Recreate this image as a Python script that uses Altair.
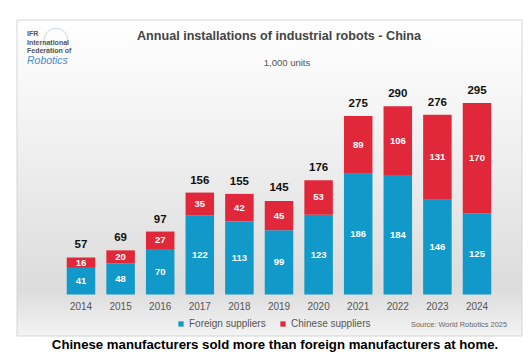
import altair as alt
import pandas as pd

years = ["2014", "2015", "2016", "2017", "2018", "2019", "2020", "2021", "2022", "2023", "2024"]
foreign = [41, 48, 70, 122, 113, 99, 123, 186, 184, 146, 125]
chinese = [16, 20, 27, 35, 42, 45, 53, 89, 106, 131, 170]
totals = [57, 69, 97, 156, 155, 145, 176, 275, 290, 276, 295]
series_names = ["Foreign suppliers", "Chinese suppliers"]
series_colors = ["#1199c9", "#e1283a"]

title_text = "Annual installations of industrial robots - China"
subtitle_text = "1,000 units"
source_text = "Source: World Robotics 2025"
caption_text = "Chinese manufacturers sold more than foreign manufacturers at home."
logo_lines = ["IFR", "International", "Federation of"]
logo_script = "Robotics"

FONT = "Liberation Sans"

rows = []
for i, y in enumerate(years):
    rows.append({"year": y, "supplier": series_names[0], "value": foreign[i], "ord": 0})
    rows.append({"year": y, "supplier": series_names[1], "value": chinese[i], "ord": 1})
df = pd.DataFrame(rows)
tot_df = pd.DataFrame({"year": years, "total": totals})
one = pd.DataFrame({"a": [0]})

xscale = alt.Scale(domain=years, range=[61.2, 496.8], paddingInner=0.28, paddingOuter=0.14)
yscale = alt.Scale(domain=[0, 295], range=[294.5, 103], nice=False, zero=True)

X = alt.X("year:N", scale=xscale, axis=None)

bg = alt.Chart(one).mark_rect(
    color=alt.Gradient(
        gradient="linear",
        stops=[
            alt.GradientStop(offset=0, color="#ffffff"),
            alt.GradientStop(offset=0.3, color="#f4f4f4"),
            alt.GradientStop(offset=0.85, color="#dcdcdc"),
            alt.GradientStop(offset=1, color="#f3f3f3"),
        ],
        x1=0, x2=0, y1=0, y2=1,
    ),
    stroke="#d4d4d4",
    strokeWidth=1,
).encode(x=alt.value(17), x2=alt.value(522), y=alt.value(20), y2=alt.value(336))

bars = alt.Chart(df).mark_bar().encode(
    x=X,
    y=alt.Y("value:Q", stack="zero", scale=yscale, axis=None),
    color=alt.Color(
        "supplier:N",
        scale=alt.Scale(domain=series_names, range=series_colors),
        legend=alt.Legend(
            title=None,
            orient="none",
            legendX=176,
            legendY=319,
            direction="horizontal",
            symbolType="square",
            symbolSize=28,
            symbolStrokeWidth=0,
            labelFont=FONT,
            labelFontSize=10,
            labelColor="#555555",
            labelOffset=3,
            columnPadding=12,
        ),
    ),
    order=alt.Order("ord:Q"),
)

seg_labels = alt.Chart(df).transform_stack(
    stack="value", groupby=["year"], as_=["v0", "v1"], sort=[alt.SortField("ord")]
).transform_calculate(mid="(datum.v0 + datum.v1) / 2").mark_text(
    color="white", fontWeight="bold", fontSize=9.5, font=FONT, baseline="middle"
).encode(x=X, y=alt.Y("mid:Q", scale=yscale, axis=None), text=alt.Text("value:Q"))

tot_labels = alt.Chart(tot_df).mark_text(
    color="#111111", fontWeight="bold", fontSize=11.5, font=FONT, baseline="middle", dy=-12
).encode(x=X, y=alt.Y("total:Q", scale=yscale, axis=None), text=alt.Text("total:Q"))

year_labels = alt.Chart(tot_df).mark_text(
    color="#555555", fontSize=10, font=FONT, baseline="middle"
).encode(x=X, y=alt.value(307), text="year:N")

def txt(s, x, y, **kw):
    return alt.Chart(pd.DataFrame({"t": [s]})).mark_text(font=FONT, baseline="middle", **kw).encode(
        x=alt.value(x), y=alt.value(y), text="t:N"
    )

title = txt(title_text, 279, 36, fontSize=12.6, fontWeight="bold", color="#444444", align="center")
subtitle = txt(subtitle_text, 287, 63, fontSize=9.5, color="#555555", align="center")
source = txt(source_text, 411, 325, fontSize=7.4, color="#666666", align="left")
caption = txt(caption_text, 275, 345, fontSize=13.2, fontWeight="bold", color="#000000", align="center")

globe = alt.Chart(one).mark_point(shape="circle", filled=False, size=560, stroke="#b8cad6", strokeWidth=1).encode(
    x=alt.value(56), y=alt.value(40)
)
logo = [txt(s, 27, 34 + 8.6 * i, fontSize=7, fontWeight="bold", color="#555555", align="left")
        for i, s in enumerate(logo_lines)]
logo_r = txt(logo_script, 27, 61, fontSize=10.5, fontStyle="italic", color="#4a8ccc", align="left")

chart = alt.layer(
    bg, globe, *logo, logo_r, title, subtitle, bars, seg_labels, tot_labels, year_labels, source, caption
).properties(
    width=531, height=356, padding=0, autosize=alt.AutoSizeParams(type="none"), background="white"
).configure_view(stroke=None)

chart.save("out.html", embed_options={"renderer": "svg", "actions": False})
